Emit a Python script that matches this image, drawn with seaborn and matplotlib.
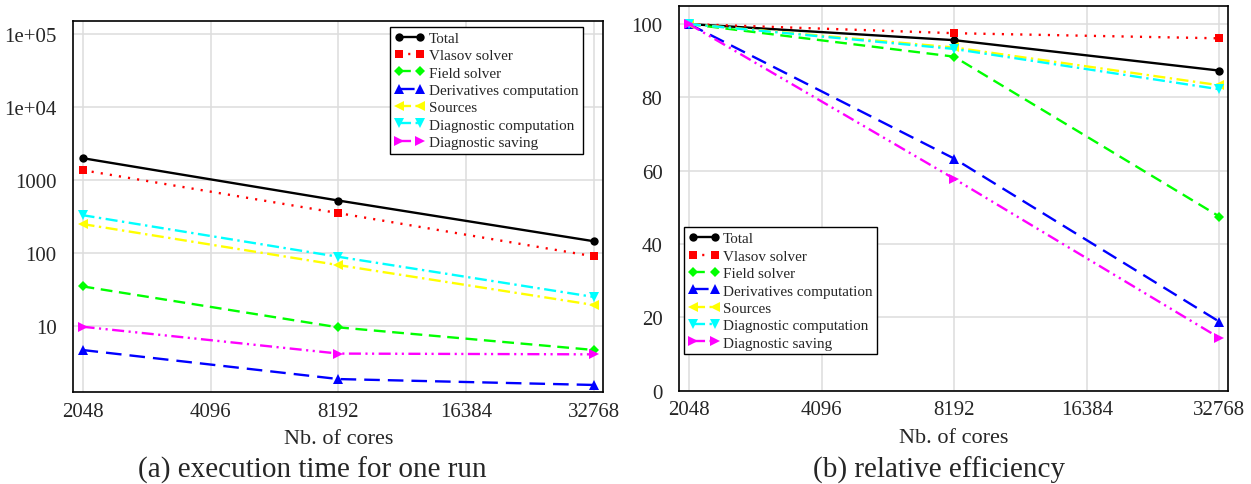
import numpy as np
import pandas as pd
import matplotlib
matplotlib.use("Agg")
import matplotlib.pyplot as plt
import seaborn as sns

cores = [2048, 8192, 32768]
series_names = ["Total", "Vlasov solver", "Field solver", "Derivatives computation",
                "Sources", "Diagnostic computation", "Diagnostic saving"]
time_total = [2000, 525, 145]
time_vlasov = [1370, 353, 90]
time_field = [35, 9.6, 4.7]
time_deriv = [4.7, 1.88, 1.56]
time_sources = [250, 68.5, 19.4]
time_diagcomp = [331, 89, 25]
time_diagsave = [9.8, 4.2, 4.1]

eff_total = [100, 95.6, 87.3]
eff_vlasov = [100, 97.5, 96.1]
eff_field = [100, 91.1, 47.5]
eff_deriv = [100, 63.3, 18.8]
eff_sources = [100, 93.6, 83.3]
eff_diagcomp = [100, 93.2, 82.2]
eff_diagsave = [100, 57.8, 14.4]

x_ticks = [2048, 4096, 8192, 16384, 32768]
y_ticks_time = [10, 100, 1000, 1e4, 1e5]
y_tick_labels_time = ["10", "100", "1000", "1e+04", "1e+05"]
y_ticks_eff = [0, 20, 40, 60, 80, 100]

times = [time_total, time_vlasov, time_field, time_deriv, time_sources, time_diagcomp, time_diagsave]
effs = [eff_total, eff_vlasov, eff_field, eff_deriv, eff_sources, eff_diagcomp, eff_diagsave]

LW = 1.7
styles = [
    dict(color="black", marker="o", dashes=None, ms=6),
    dict(color="#ff0000", marker="s", dashes=(0.9, 3.0), ms=5.3),
    dict(color="#00ff00", marker="D", dashes=(5, 2.8), ms=4.6),
    dict(color="#0000ff", marker="^", dashes=(6.6, 3.4), ms=6.5),
    dict(color="#ffff00", marker="<", dashes=(5.1, 1.9, 1.0, 1.9), ms=6.5),
    dict(color="#00ffff", marker="v", dashes=(5.1, 1.9, 1.0, 1.9), ms=6.5),
    dict(color="#ff00ff", marker=">", dashes=(5.1, 1.9, 0.9, 1.9, 0.9, 1.9), ms=6.5),
]

sns.set_style("whitegrid")
plt.rcParams["font.family"] = ["Liberation Serif", "DejaVu Serif"]

fig = plt.figure(figsize=(12.51, 4.85), dpi=100)
ax1 = fig.add_axes([0.0586, 0.1897, 0.4237, 0.7643])
ax2 = fig.add_axes([0.5428, 0.1924, 0.4391, 0.7938])


def draw(ax, data):
    for name, vals, st in zip(series_names, data, styles):
        df = pd.DataFrame({"cores": cores, "val": vals})
        sns.lineplot(data=df, x="cores", y="val", ax=ax, color=st["color"],
                     marker=st["marker"], markersize=st["ms"], markeredgewidth=0,
                     linewidth=LW, label=name)
        line = ax.get_lines()[-1]
        if st["dashes"] is not None:
            line.set_dashes(st["dashes"])
        line.set_markeredgecolor(st["color"])
        line.set_clip_on(False)


draw(ax1, times)
draw(ax2, effs)

for ax in (ax1, ax2):
    ax.set_xscale("log", base=2)
    ax.set_xticks(x_ticks)
    ax.set_xticklabels([str(v) for v in x_ticks])
    ax.xaxis.set_minor_locator(matplotlib.ticker.NullLocator())
    ax.set_xlabel("Nb. of cores", fontsize=16, labelpad=6)
    ax.tick_params(axis="x", labelsize=15, length=0, pad=7)
    ax.tick_params(axis="y", labelsize=15, length=0, pad=12)
    ax.grid(True, color="#dddddd", linewidth=1.1)
    ax.set_axisbelow(True)
    for sp in ax.spines.values():
        sp.set_color("black")
        sp.set_linewidth(1.2)
        sp.set_zorder(5)

ax1.set_xlim(1948, 34397)
ax1.set_yscale("log")
ax1.set_ylim(1.25, 1.5e5)
ax1.set_yticks(y_ticks_time)
ax1.set_yticklabels(y_tick_labels_time)
ax1.yaxis.set_minor_locator(matplotlib.ticker.NullLocator())
ax1.set_ylabel("")

ax2.set_xlim(1945, 34337)
ax2.set_ylim(0, 105)
ax2.set_yticks(y_ticks_eff)
ax2.set_ylabel("")

leg_kw = dict(fontsize=10.9, numpoints=2, frameon=True, fancybox=False,
              edgecolor="black", framealpha=1, handlelength=2.0,
              handletextpad=0.27, borderpad=0.3, labelspacing=0.25,
              borderaxespad=0)
l1 = ax1.legend(loc="upper right", bbox_to_anchor=(0.961, 0.9855), **leg_kw)
l2 = ax2.legend(loc="lower left", bbox_to_anchor=(0.0096, 0.0945), **leg_kw)
for l in (l1, l2):
    l.get_frame().set_linewidth(1.0)
    l.set_zorder(10)

fig.text(0.2498, 0.0295, "(a) execution time for one run", ha="center", va="center", fontsize=21)
fig.text(0.7504, 0.0295, "(b) relative efficiency", ha="center", va="center", fontsize=21)

fig.savefig("out.png", dpi=100)
